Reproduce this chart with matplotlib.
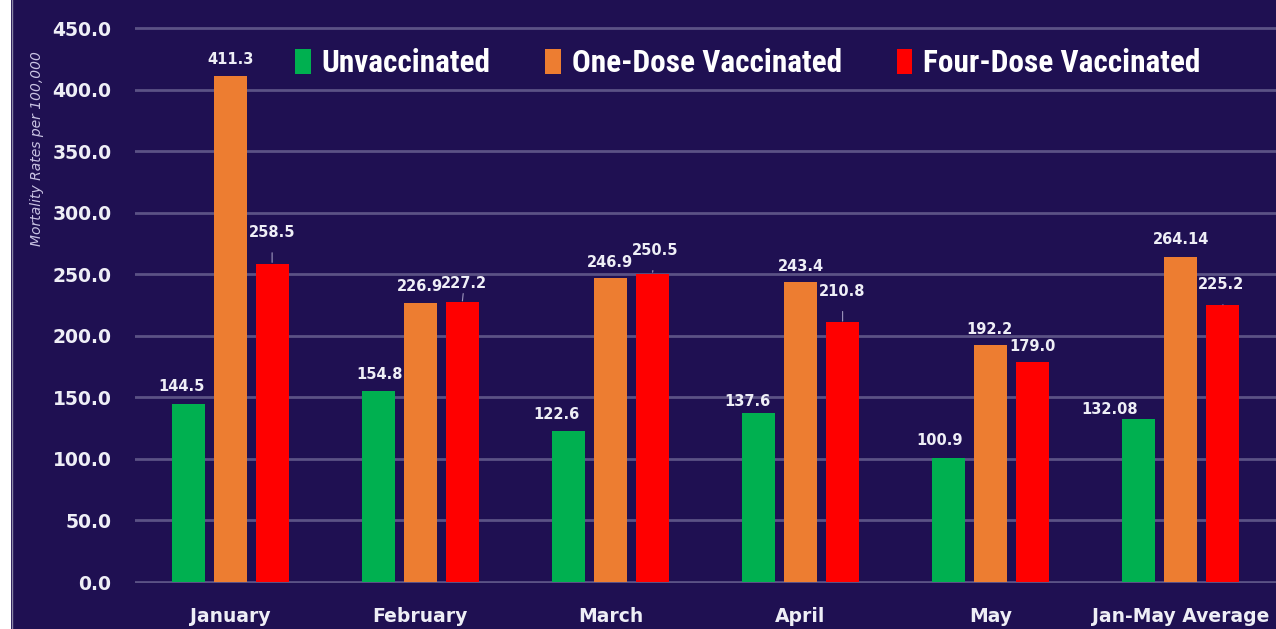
import numpy as np
import matplotlib
matplotlib.use('Agg')
import matplotlib.pyplot as plt
from matplotlib import font_manager
from matplotlib.patches import Patch, Rectangle

maanden = ["January", "February", "March", "April", "May", "Jan-May Average"]
unvaccinated = [144.5, 154.8, 122.6, 137.6, 100.9, 132.08]
one_dose = [411.3, 226.9, 246.9, 243.4, 192.2, 264.14]
four_dose = [258.5, 227.2, 250.5, 210.8, 179.0, 225.2]
label_unvax = ["144.5", "154.8", "122.6", "137.6", "100.9", "132.08"]
label_one = ["411.3", "226.9", "246.9", "243.4", "192.2", "264.14"]
label_four = ["258.5", "227.2", "250.5", "210.8", "179.0", "225.2"]
legenda = ["Unvaccinated", "One-Dose Vaccinated", "Four-Dose Vaccinated"]

# label offsets in pixels (dx, dy) above bar top, plus leader line flag
offs_unvax = [(-7, 18), (1, 17), (-12, 17), (-11, 11), (-9, 17), (-29, 10)]
offs_one = [(0, 16), (0, 16), (0, 16), (0, 16), (-1, 16), (0, 17)]
offs_four = [(0, 31), (2, 19), (3, 23), (0, 31), (0, 15), (-2, 20)]
lijn_four = [True, True, True, True, False, True]

bg = '#1f1052'
grid_kleur = '#5b5285'
tekst = '#eeeef6'

namen = {f.name for f in font_manager.fontManager.ttflist}
smal = next((n for n in ['Roboto Condensed', 'Liberation Sans Narrow', 'DejaVu Sans Condensed']
             if n in namen), 'DejaVu Sans')

fig = plt.figure(figsize=(12.76, 6.29), dpi=100, facecolor=bg)
fig.patches.append(Rectangle((0, 0), 11 / 1276, 1, transform=fig.transFigure,
                             facecolor='white', edgecolor='none', zorder=0))
fig.lines.append(plt.Line2D([11.5 / 1276, 11.5 / 1276], [0, 1], transform=fig.transFigure,
                            color='#8a84a8', lw=1))

# y range padded by 1 unit so the 0 and 450 gridlines are not clipped
schaal = 554 / 450
ax = fig.add_axes([135 / 1276, (47 - schaal) / 629, 1141 / 1276, (554 + 2 * schaal) / 629])
ax.set_facecolor(bg)

x = np.arange(len(maanden))
breedte = 0.173
stap = 0.221
series = [
    (unvaccinated, label_unvax, offs_unvax, [False] * 6, '#00b050', -stap),
    (one_dose, label_one, offs_one, [False] * 6, '#ed7d31', 0),
    (four_dose, label_four, offs_four, lijn_four, '#ff0000', stap),
]
for waarden, labels, offs, lijnen, kleur, dx in series:
    ax.bar(x + dx, waarden, width=breedte, color=kleur, zorder=3)
    for xi, v, lab, (ox, oy), lijn in zip(x + dx, waarden, labels, offs, lijnen):
        arrow = None
        if lijn:
            arrow = dict(arrowstyle='-', color='#9d96bd', lw=0.8, shrinkA=7, shrinkB=1)
        ax.annotate(lab, (xi, v), xytext=(ox, oy), textcoords='offset pixels',
                    ha='center', va='center', fontsize=10.5, fontweight='bold',
                    color=tekst, arrowprops=arrow, zorder=4)

ax.set_xlim(-0.5, 5.5)
ax.set_ylim(-1, 451)
ax.set_yticks(np.arange(0, 451, 50))
ax.set_yticklabels([f"{t:.1f}" for t in np.arange(0, 451, 50)])
ax.set_xticks(x)
ax.set_xticklabels(maanden)
ax.grid(axis='y', color=grid_kleur, lw=2, zorder=0)
ax.set_axisbelow(True)
for s in ax.spines.values():
    s.set_visible(False)
ax.tick_params(axis='both', length=0, colors=tekst, labelsize=13.5)
ax.tick_params(axis='y', pad=17)
ax.tick_params(axis='x', pad=17)
for t in ax.get_xticklabels() + ax.get_yticklabels():
    t.set_fontweight('bold')

fig.text(37 / 1276, 1 - 149 / 629, "Mortality Rates per 100,000", rotation=90,
         ha='center', va='center', fontsize=10, style='italic', color='#c9c3e3')

handles = [Patch(facecolor=c, edgecolor='none') for c in ['#00b050', '#ed7d31', '#ff0000']]
leg = fig.legend(handles, legenda, loc='center', bbox_to_anchor=(748 / 1276, 1 - 63 / 629),
                 ncol=3, frameon=False, handlelength=0.5, handleheight=0.85,
                 handletextpad=0.35, columnspacing=1.75,
                 prop=dict(family=smal, weight='bold', size=22.5))
for t in leg.get_texts():
    t.set_color('white')

fig.savefig('out.png', dpi=100, facecolor=bg)
